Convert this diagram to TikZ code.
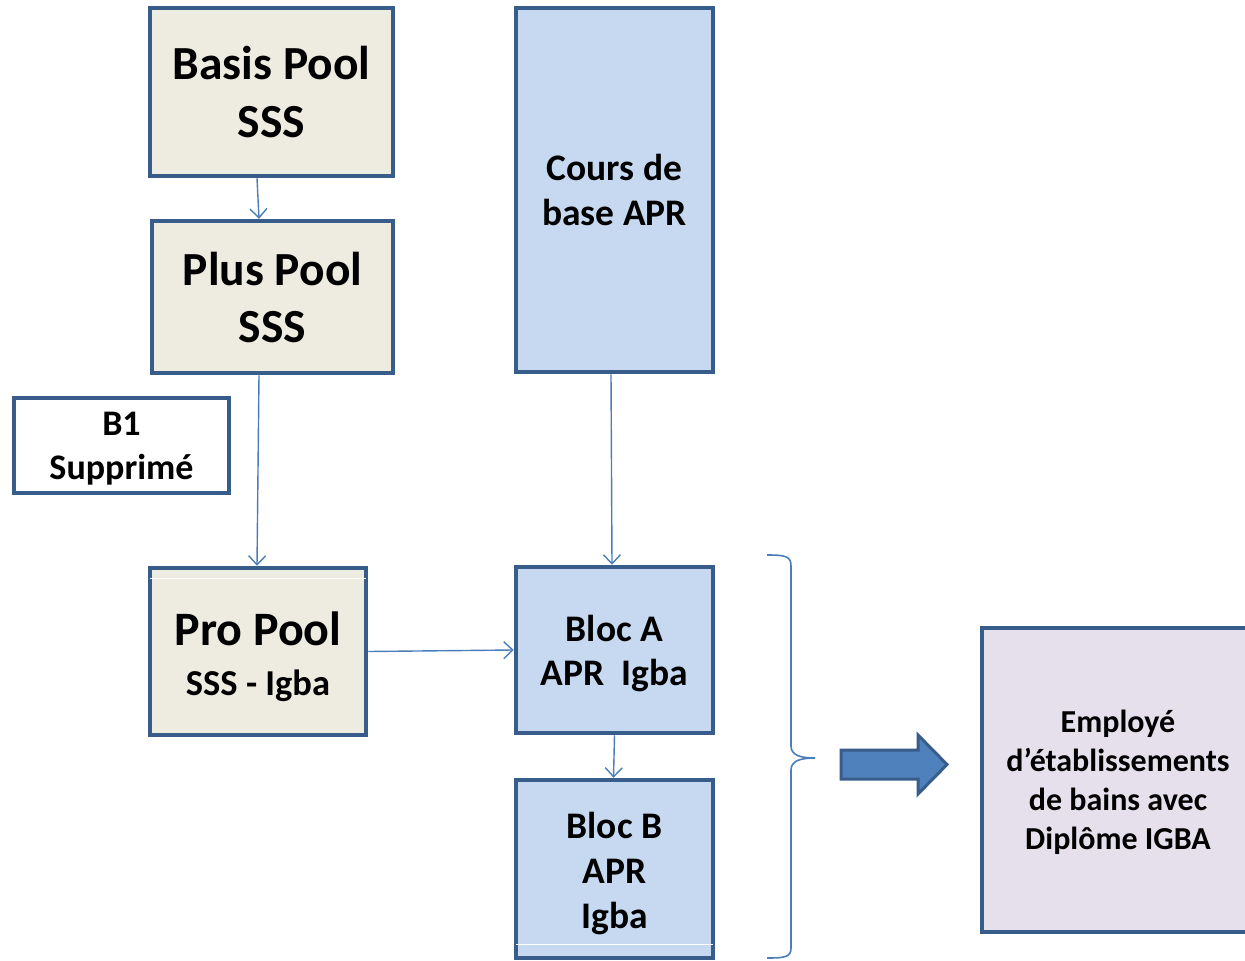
\documentclass[tikz,border=0pt]{standalone}
\usepackage{fontspec}
\setmainfont{Carlito}
\usetikzlibrary{arrows.meta,calc}
\definecolor{bordc}{HTML}{385D8A}
\definecolor{beige}{HTML}{EEECE1}
\definecolor{lblue}{HTML}{C6D9F1}
\definecolor{lav}{HTML}{E5E0EC}
\definecolor{connc}{HTML}{4A7EBB}
\definecolor{arrc}{HTML}{4F81BD}
\tikzset{
  boxbase/.style={draw=bordc,line width=4.5pt,rectangle,align=center,inner sep=0pt,font=\bfseries},
  poolbox/.style={boxbase,fill=beige},
  aprbox/.style={boxbase,fill=lblue},
  endbox/.style={boxbase,fill=lav},
  notebox/.style={boxbase,fill=white},
  lbl/.style={align=center,inner sep=0pt},
  conn/.style={draw=connc,line width=1.4pt,-{Straight Barb[length=9pt,width=17pt,line width=1.4pt]}},
}
\begin{document}
\begin{tikzpicture}[x=1pt,y=-1pt]
\useasboundingbox (0,0) rectangle (1245,961);
% left column
\node[poolbox,minimum width=243pt,minimum height=168pt,font=\bfseries\fontsize{47.5}{58}\selectfont] (basis) at (271.5,92) {Basis Pool\\SSS};
\node[poolbox,minimum width=241pt,minimum height=152pt,font=\bfseries\fontsize{47.5}{57}\selectfont] (plus) at (272.5,297) {Plus Pool\\SSS};
\node[notebox,minimum width=215pt,minimum height=95pt] (b1) at (121.5,445.5) {};
\node[lbl,font=\bfseries\fontsize{36}{44}\selectfont] (b1text) at ([yshift=-3pt]b1.center) {B1\\Supprimé};
\node[poolbox,minimum width=216pt,minimum height=167pt] (pro) at (258,651.5) {};
\node[lbl,font=\bfseries\fontsize{48}{50}\selectfont] (protext) at ([yshift=-5pt]pro.center) {Pro Pool\\{\fontsize{36.5}{50}\selectfont SSS - Igba}};
\draw[white,line width=1pt] ([xshift=2pt,yshift=-13pt]pro.north west) -- ([xshift=-2pt,yshift=-13pt]pro.north east);
% middle column
\node[aprbox,minimum width=197pt,minimum height=364pt,font=\bfseries\fontsize{37.5}{45}\selectfont] (cours) at (614.5,190) {Cours de\\base APR};
\node[aprbox,minimum width=197pt,minimum height=166pt] (bloca) at (614.5,650) {};
\node[lbl,font=\bfseries\fontsize{37.5}{44}\selectfont] (blocatext) at ([yshift=-4pt]bloca.center) {Bloc A\\APR\ \ Igba};
\node[aprbox,minimum width=197pt,minimum height=178pt] (blocb) at (614.5,869) {};
\node[lbl,font=\bfseries\fontsize{37.5}{45}\selectfont] (blocbtext) at ([yshift=-5pt]blocb.center) {Bloc B\\APR\\Igba};
\draw[white,line width=1pt] ([xshift=2pt,yshift=16pt]blocb.south west) -- ([xshift=-2pt,yshift=16pt]blocb.south east);
% result
\node[endbox,minimum width=265pt,minimum height=304pt] (emp) at (1114.5,780) {};
\node[lbl,font=\bfseries\fontsize{32}{39}\selectfont] (emptext) at (1118,782) {Employé\\d’établissements\\de bains avec\\Diplôme IGBA};
% connectors
\draw[conn] ([xshift=-14.5pt]basis.south) -- ([xshift=-13.5pt]plus.north);
\draw[conn] ([xshift=-13.5pt]plus.south) -- ([xshift=-1pt]pro.north);
\draw[conn] (pro.east) -- (bloca.west);
\draw[conn] ([xshift=-3.5pt]cours.south) -- ([xshift=-2.5pt]bloca.north);
\draw[conn] (bloca.south) -- ([xshift=-1pt]blocb.north);
% brace
\draw[draw=connc,line width=1.6pt] (767,555) .. controls (785,555) and (791,556) .. (791,566) -- (791,746) .. controls (791,755) and (800,758) .. (815,758) .. controls (800,758) and (791,761) .. (791,770) -- (791,948) .. controls (791,957) and (785,958) .. (767,958);
% block arrow
\draw[fill=arrc,draw=bordc,line width=3pt,line join=miter] (841,750) -- (918,750) -- (918,735) -- (947,764.5) -- (918,794) -- (918,779) -- (841,779) -- cycle;
\end{tikzpicture}
\end{document}
